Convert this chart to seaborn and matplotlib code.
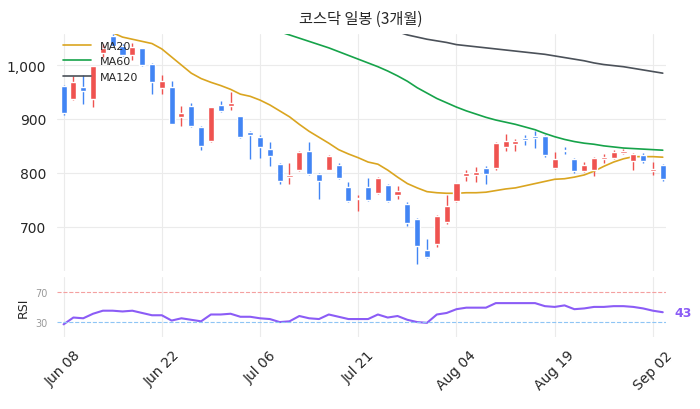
import numpy as np
import pandas as pd
import matplotlib
matplotlib.use("Agg")
import matplotlib.pyplot as plt
import seaborn as sns

sns.set_theme(style="whitegrid")
plt.rcParams['font.family'] = ['DejaVu Sans', 'Noto Sans CJK KR']

opens  = [961,937,959,937,1022,1054,1035,1018,1031,1002,957,959,904,924,885,859,926,924,905,876,867,844,817,793,806,841,798,806,815,774,751,774,763,778,759,743,715,656,667,709,748,794,796,809,808,848,854,865,868,868,809,843,826,804,806,826,828,837,822,833,804,815]
closes = [911,969,951,998,1031,1035,1018,1033,1000,969,970,891,911,887,850,922,915,930,867,870,848,831,785,795,839,798,785,831,791,748,753,750,791,748,767,706,665,644,720,739,781,800,802,798,856,859,859,861,865,833,826,841,804,815,828,830,839,841,835,822,807,789]
highs  = [963,980,982,998,1040,1058,1040,1041,1032,1003,981,970,924,929,887,923,933,950,906,877,871,858,818,818,840,858,800,833,818,783,758,790,793,780,775,745,717,678,722,759,782,806,811,813,857,872,862,870,877,870,839,848,827,820,830,834,842,845,836,836,820,817]
lows   = [908,935,928,922,1015,1033,1016,1009,998,946,946,890,887,885,843,857,913,917,865,826,828,813,780,780,804,796,752,805,789,746,730,748,761,746,752,701,631,642,663,705,746,785,783,780,806,841,841,852,846,829,807,834,799,802,794,819,826,834,806,819,796,785]
nan = np.nan
ma20 = [1095,1090,1085,1078,1070,1060,1052,1048,1044,1040,1030,1015,1000,985,975,968,962,955,946,942,935,926,915,904,890,877,866,855,843,835,828,820,816,805,792,780,772,765,763,762,762,763,763,764,767,770,772,776,780,784,788,789,792,796,803,812,820,826,830,830,830,829]
ma60 = [nan]*20 + [1075,1068,1062,1056,1050,1044,1038,1032,1025,1018,1011,1004,997,989,980,970,958,948,938,930,922,915,909,903,898,894,890,885,880,873,867,862,858,855,853,850,848,846,845,844,843,842]
ma120 = [nan]*34 + [1062,1056,1052,1048,1045,1042,1038,1036,1034,1032,1030,1028,1026,1024,1022,1020,1017,1014,1011,1008,1004,1001,999,997,994,991,988,985]
rsi = [27,36,35,41,45,45,44,45,42,39,39,32,35,33,31,40,40,41,37,37,35,34,30,31,38,35,34,40,37,34,34,34,40,36,38,33,30,29,40,42,47,49,49,49,55,55,55,55,55,51,50,52,47,48,50,50,51,51,50,48,45,43]
tick_labels = ["Jun 08","Jun 22","Jul 06","Jul 21","Aug 04","Aug 19","Sep 02"]
tick_pos = [0,10,20,30,40,50,60]

UP, DOWN = "#ef5350", "#4285f4"
n = len(opens)
x = np.arange(n)
df = pd.DataFrame({"x": x, "open": opens, "close": closes, "high": highs, "low": lows,
                   "MA20": ma20, "MA60": ma60, "MA120": ma120, "RSI": rsi})
colors = [UP if c >= o else DOWN for o, c in zip(opens, closes)]

fig = plt.figure(figsize=(7, 4.1), dpi=100)
ax = fig.add_axes([0.081, 0.337, 0.87, 0.578])
ax2 = fig.add_axes([0.081, 0.175, 0.87, 0.148], sharex=ax)

ax.vlines(df["x"], df["low"], df["high"], colors=colors, linewidth=1, zorder=2)
body_bot = np.minimum(df["open"], df["close"])
body_h = np.maximum(np.abs(df["close"] - df["open"]), 1.5)
ax.bar(df["x"], body_h, bottom=body_bot, width=0.62, color=colors, zorder=3)

sns.lineplot(data=df, x="x", y="MA20", ax=ax, color="#DAA520", linewidth=1.2, label="MA20")
sns.lineplot(data=df, x="x", y="MA60", ax=ax, color="#16a34a", linewidth=1.2, label="MA60")
sns.lineplot(data=df, x="x", y="MA120", ax=ax, color="#4b5159", linewidth=1.2, label="MA120")

ax.set_ylim(618, 1058)
ax.set_xlim(-0.7, 61.3)
ax.set_yticks([700, 800, 900, 1000])
ax.set_yticklabels(["700", "800", "900", "1,000"])
ax.set_xlabel(""); ax.set_ylabel("")
ax.tick_params(axis="x", labelbottom=False, length=0)
ax.tick_params(axis="y", length=4, color="#333333", labelsize=10)
ax.grid(True, color="#ebebeb", linewidth=0.8)
for s in ax.spines.values():
    s.set_visible(False)
ax.legend(loc="upper left", frameon=False, fontsize=8, borderaxespad=0.2, handlelength=2.5)
ax.set_title("코스닥 일봉 (3개월)", fontsize=11, pad=8, family=['Noto Sans CJK KR', 'DejaVu Sans'])

sns.lineplot(data=df, x="x", y="RSI", ax=ax2, color="#8b5cf6", linewidth=1.5)
ax2.axhline(70, color="#f4a0a0", linestyle="--", linewidth=0.8)
ax2.axhline(30, color="#8ec5f5", linestyle="--", linewidth=0.8)
ax2.set_ylim(10, 90)
ax2.set_yticks([30, 70])
ax2.tick_params(axis="y", labelsize=7, labelcolor="#999999", length=3, color="#999999")
ax2.set_ylabel("RSI", fontsize=9)
ax2.set_xlabel("")
ax2.grid(True, axis="x", color="#ebebeb", linewidth=0.8)
ax2.grid(False, axis="y")
for s in ax2.spines.values():
    s.set_visible(False)
ax2.set_xticks(tick_pos)
ax2.set_xticklabels(tick_labels, rotation=45, fontsize=10)
ax2.tick_params(axis="x", length=4, color="#333333")
ax2.text(n - 1 + 1.2, rsi[-1], f"{rsi[-1]}", color="#8b5cf6", fontsize=9, fontweight="bold", va="center")

fig.savefig("out.png", dpi=100)
